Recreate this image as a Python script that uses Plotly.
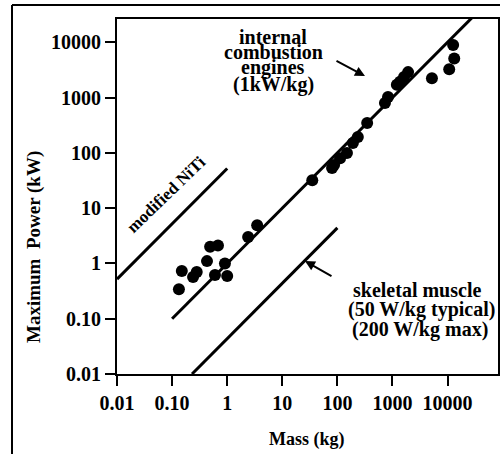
import plotly.graph_objects as go

# ---- data ----
engine_mass = [0.133, 0.15, 0.24, 0.28, 0.43, 0.49, 0.68, 0.60, 0.91, 1.0,
               2.4, 3.5, 35, 80, 87, 112, 149, 191, 235, 347,
               730, 830, 1200, 1370, 1620, 1920, 5200, 10700, 13200, 12600]
engine_power = [0.34, 0.73, 0.57, 0.70, 1.1, 2.0, 2.1, 0.62, 1.0, 0.59,
                3.0, 4.9, 32, 53, 60, 80, 99, 151, 193, 347,
                795, 1020, 1700, 1920, 2340, 2880, 2240, 3260, 5100, 8900]

ice_line_mass = [0.1, 30000]
ice_line_power = [0.1, 30000]
niti_line_mass = [0.01, 1]
niti_line_power = [0.52, 52]
muscle_line_mass = [0.23, 100]
muscle_line_power = [0.01, 4.4]

tick_vals = [0.01, 0.1, 1, 10, 100, 1000, 10000]
x_tick_text = ["0.01", "0.10", "1", "10", "100", "1000", "10000"]
y_tick_text = ["0.01", "0.10", "1", "10", "100", "1000", "10000"]

# ---- layout helpers (pixel -> axis coords) ----
L, T, R, B = 117, 19, 498, 374
XR = [-2, 4.915]
YR = [-2, 4.42]
def px_x(px):
    return XR[0] + (px - L) / (R - L) * (XR[1] - XR[0])
def px_y(py):
    return YR[0] + (B - py) / (B - T) * (YR[1] - YR[0])
def paper_x(px):
    return (px - L) / (R - L)
def paper_y(py):
    return (B - py) / (B - T)

FONT = "Liberation Serif"
line_style = dict(color="black", width=3)

fig = go.Figure()
fig.add_trace(go.Scatter(x=ice_line_mass, y=ice_line_power, mode="lines",
                         line=line_style, hoverinfo="skip"))
fig.add_trace(go.Scatter(x=niti_line_mass, y=niti_line_power, mode="lines",
                         line=line_style, hoverinfo="skip"))
fig.add_trace(go.Scatter(x=muscle_line_mass, y=muscle_line_power, mode="lines",
                         line=line_style, hoverinfo="skip"))
fig.add_trace(go.Scatter(x=engine_mass, y=engine_power, mode="markers",
                         marker=dict(color="black", size=12, line=dict(width=0))))

ann_font = dict(family=FONT, size=20, color="black", weight="bold")
annotations = []
for txt, cy in [("internal", 37), ("combustion", 52), ("engines", 67), ("(1kW/kg)", 84)]:
    annotations.append(dict(x=px_x(273), y=px_y(cy), xref="x", yref="y", text=txt,
                            showarrow=False, font=ann_font, xanchor="center", yanchor="middle"))
for txt, cx, cy in [("skeletal muscle", 417, 290), ("(50 W/kg typical)", 421, 309),
                    ("(200 W/kg max)", 420, 329)]:
    annotations.append(dict(x=px_x(cx), y=px_y(cy), xref="x", yref="y", text=txt,
                            showarrow=False, font=ann_font, xanchor="center", yanchor="middle"))
annotations.append(dict(x=px_x(166), y=px_y(194), xref="x", yref="y", text="modified NiTi",
                        showarrow=False, textangle=-44, xanchor="center", yanchor="middle",
                        font=dict(family=FONT, size=17, color="black", weight="bold")))
# arrows
annotations.append(dict(x=px_x(365), y=px_y(76), xref="x", yref="y", text="",
                        showarrow=True, ax=-30, ay=-16, arrowhead=2, arrowsize=1,
                        arrowwidth=2, arrowcolor="black"))
annotations.append(dict(x=px_x(305), y=px_y(261), xref="x", yref="y", text="",
                        showarrow=True, ax=28, ay=16, arrowhead=2, arrowsize=1,
                        arrowwidth=2, arrowcolor="black"))
# axis titles
annotations.append(dict(x=paper_x(34), y=paper_y(247), xref="paper", yref="paper",
                        text="Maximum  Power (kW)", textangle=-90, showarrow=False,
                        xanchor="center", yanchor="middle",
                        font=dict(family=FONT, size=19, color="black", weight="bold")))
annotations.append(dict(x=paper_x(307), y=paper_y(439), xref="paper", yref="paper",
                        text="Mass (kg)", showarrow=False,
                        xanchor="center", yanchor="middle",
                        font=dict(family=FONT, size=18, color="black", weight="bold")))

shapes = [
    dict(type="line", xref="paper", yref="paper", x0=paper_x(12), x1=paper_x(12),
         y0=paper_y(454), y1=paper_y(5), line=dict(color="black", width=2)),
    dict(type="line", xref="paper", yref="paper", x0=paper_x(12), x1=paper_x(500),
         y0=paper_y(5), y1=paper_y(5), line=dict(color="black", width=2)),
]

tick_font = dict(family=FONT, size=20, color="black", weight="bold")
fig.update_layout(
    width=500, height=454,
    margin=dict(l=L, r=500 - R, t=T, b=454 - B),
    paper_bgcolor="white", plot_bgcolor="white",
    showlegend=False,
    annotations=annotations,
    shapes=shapes,
    xaxis=dict(type="log", range=XR, tickvals=tick_vals, ticktext=x_tick_text,
               ticks="outside", ticklen=10, tickwidth=2, tickcolor="black",
               showline=True, linecolor="black", linewidth=2, mirror=True,
               showgrid=False, zeroline=False, tickfont=tick_font, automargin=False),
    yaxis=dict(type="log", range=YR, tickvals=tick_vals, ticktext=y_tick_text,
               ticks="outside", ticklen=10, tickwidth=2, tickcolor="black",
               showline=True, linecolor="black", linewidth=2, mirror=True,
               showgrid=False, zeroline=False, tickfont=tick_font, automargin=False),
)

fig.write_html("out.html", config={"displayModeBar": False},
               post_script="document.body.style.margin='0';document.body.style.padding='0';")
